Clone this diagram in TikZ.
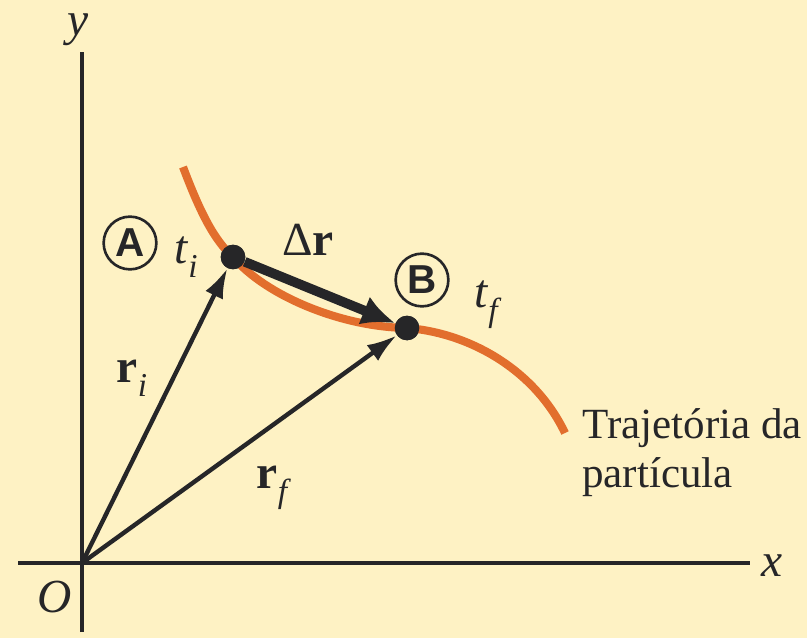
\documentclass[tikz,border=0pt]{standalone}
\usepackage{fontspec}
\setmainfont{Liberation Serif}
\setsansfont{Liberation Sans}
\usetikzlibrary{arrows.meta}
\definecolor{bg}{RGB}{254,242,196}
\definecolor{traj}{RGB}{226,110,45}
\definecolor{ink}{RGB}{38,38,40}
\newcommand{\sbt}[1]{\raisebox{-0.3em}{\fontsize{19}{19}\selectfont\itshape #1}}
\begin{document}
\begin{tikzpicture}[x=0.02cm,y=-0.02cm,
  axis/.style={draw=ink, line width=2.2pt},
  vec/.style={draw=ink, line width=2.5pt, -{Latex[length=17pt,width=11pt]}},
  bigvec/.style={draw=ink, line width=5.5pt, -{Latex[length=19pt,width=17pt]}},
  dot/.style={circle, fill=ink, inner sep=0pt, minimum size=14pt},
  circ/.style={circle, draw=ink, line width=1.5pt, minimum size=30pt, inner sep=0pt,
    font=\sffamily\bfseries\fontsize{23}{23}\selectfont, text=ink},
  lab/.style={inner sep=0pt, text=ink, font=\fontsize{27}{30}\selectfont},
  txt/.style={inner sep=0pt, anchor=base west, text=ink, font=\fontsize{24.5}{28}\selectfont}]
\fill[bg] (0,0) rectangle (807,638);
\useasboundingbox (0,0) rectangle (807,638);
% axes
\coordinate (O) at (82,563);
\coordinate (xl) at (18,563);
\coordinate (xr) at (750,563);
\coordinate (yt) at (82,52);
\coordinate (yb) at (82,632);
\draw[axis] (xl) -- (xr);
\draw[axis] (yb) -- (yt);
% points
\node[dot] (A) at (233,257) {};
\node[dot] (B) at (407,328) {};
% trajectory
\coordinate (c0) at (183,167);
\coordinate (c1) at (565,433);
\draw[traj, line width=4.6pt] (c0) .. controls (200,212) and (214,240) .. (A.center)
  .. controls (265,295) and (340,327) .. (B.center)
  .. controls (470,333) and (535,370) .. (c1);
% vectors
\draw[vec] (O) -- (A);
\draw[vec] (O) -- (B);
\draw[bigvec] (A) -- (B);
\node[dot] at (A) {};
\node[dot] at (B) {};
% labels
\node[circ] (lA) at (130,243) {A};
\node[circ] (lB) at (422,280) {B};
\node[lab] (ti) at (186,257) {\textit{t}\sbt{i}};
\node[lab] (tf) at (486,305) {\textit{t}\sbt{f}};
\node[lab] (dr) at (308,240) {Δ\textbf{r}};
\node[lab] (ri) at (132,378) {\textbf{r}\sbt{i}};
\node[lab] (rf) at (272,488) {\textbf{r}\sbt{f}};
\node[lab] (ly) at (78,30) {\textit{y}};
\node[lab] (lx) at (772,566) {\textit{x}};
\node[lab] (lO) at (55,597) {\textit{O}};
\node[txt] (t1) at (582,438) {Trajetória da};
\node[txt] (t2) at (582,487) {partícula};
\end{tikzpicture}
\end{document}
